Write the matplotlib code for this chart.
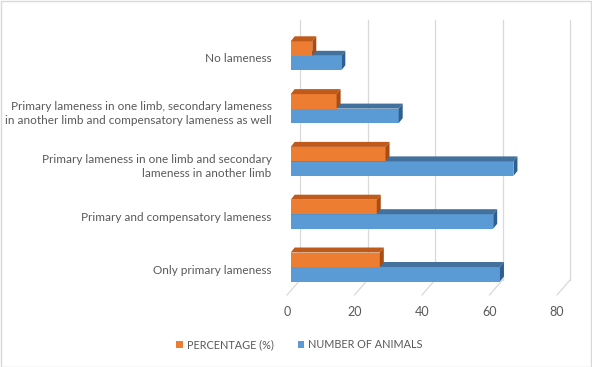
import matplotlib
matplotlib.use("Agg")
import matplotlib.pyplot as plt
from matplotlib.patches import Polygon, Patch, Rectangle
import numpy as np

categories = [
    "Only primary lameness",
    "Primary and compensatory lameness",
    "Primary lameness in one limb and secondary\nlameness in another limb",
    "Primary lameness in one limb, secondary lameness\nin another limb and compensatory lameness as well",
    "No lameness",
]
number_of_animals = [62, 60, 66, 32, 15]
percentage = [26.4, 25.5, 28.1, 13.6, 6.4]
series_names = ["PERCENTAGE (%)", "NUMBER OF ANIMALS"]
xticks = [0, 20, 40, 60, 80]

plt.rcParams['font.family'] = ['Lato', 'DejaVu Sans']

W, H = 592, 367
fig = plt.figure(figsize=(W / 100, H / 100), dpi=100)

# axes = front plane of the 3D box (pixel geometry)
px_per_unit = 3.375
row_px = 52.8
x0_px = 287
ax_right_px = 575
y0_px = 267          # pixel of category 0 center
ax_bottom_px = 295
ax_top_px = 20
ax = fig.add_axes([x0_px / W, 1 - ax_bottom_px / H,
                   (ax_right_px - x0_px) / W, (ax_bottom_px - ax_top_px) / H])
xmax = (ax_right_px - x0_px) / px_per_unit
ylo = -(ax_bottom_px - y0_px) / row_px
yhi = (y0_px - ax_top_px) / row_px
ax.set_xlim(0, xmax)
ax.set_ylim(ylo, yhi)

# back-wall gridlines + floor diagonals
gdx = 13 / px_per_unit
gdy = 15 / row_px
grid_c = "#D9D9D9"
for t in xticks:
    ax.plot([t, t + gdx], [ylo, ylo + gdy], color=grid_c, lw=0.9, clip_on=False, zorder=1)
    ax.plot([t + gdx, t + gdx], [ylo + gdy, yhi], color=grid_c, lw=0.9, clip_on=False, zorder=1)

# bars with 3D faces
xoff = 3.7 / px_per_unit
bh = 14.5 / row_px
ddx = 4 / px_per_unit
ddy = 5 / row_px
ypos = np.arange(len(categories))

styles = {
    "blue": dict(front="#5B9BD5", top="#41719C", side="#2E5F8E"),
    "orange": dict(front="#ED7D31", top="#C05A1A", side="#A94C12"),
}

def bar3d(y, v, st, z):
    ax.barh(y, v, height=bh, left=xoff, align='edge', color=st["front"], zorder=z, linewidth=0)
    l, r, t, b = xoff, xoff + v, y + bh, y
    ax.add_patch(Polygon([(l, t), (r, t), (r + ddx, t + ddy), (l + ddx, t + ddy)],
                         closed=True, facecolor=st["top"], edgecolor="none", zorder=z))
    ax.add_patch(Polygon([(r, b), (r, t), (r + ddx, t + ddy), (r + ddx, b + ddy)],
                         closed=True, facecolor=st["side"], edgecolor="none", zorder=z))

for i in range(len(categories)):
    z = 10 + (len(categories) - i) * 3
    bar3d(ypos[i] - bh, number_of_animals[i], styles["blue"], z)
    bar3d(ypos[i], percentage[i], styles["orange"], z + 1)

for s in ax.spines.values():
    s.set_visible(False)
ax.set_xticks(xticks)
ax.set_xticklabels([str(t) for t in xticks], color="#595959", fontsize=9)
ax.tick_params(axis='x', length=0, pad=8)
ax.set_yticks(ypos - 0.04)
ax.set_yticklabels(categories, color="#595959", fontsize=8.5, linespacing=1.35)
ax.tick_params(axis='y', length=0, pad=11)

handles = [Patch(facecolor="#ED7D31", edgecolor="none"),
           Patch(facecolor="#5B9BD5", edgecolor="none")]
leg = fig.legend(handles, series_names, loc='center', bbox_to_anchor=(0.506, 1 - 345 / H),
                 ncol=2, frameon=False, fontsize=7.8, handlelength=0.6, handleheight=0.6,
                 handletextpad=0.4, columnspacing=2.2)
for t in leg.get_texts():
    t.set_color("#595959")

fig.patches.append(Rectangle((0.5 / W, 0.5 / H), 1 - 1.5 / W, 1 - 1.5 / H, transform=fig.transFigure,
                             fill=False, edgecolor="#D9D9D9", lw=1))

fig.savefig("out.png", dpi=100)
